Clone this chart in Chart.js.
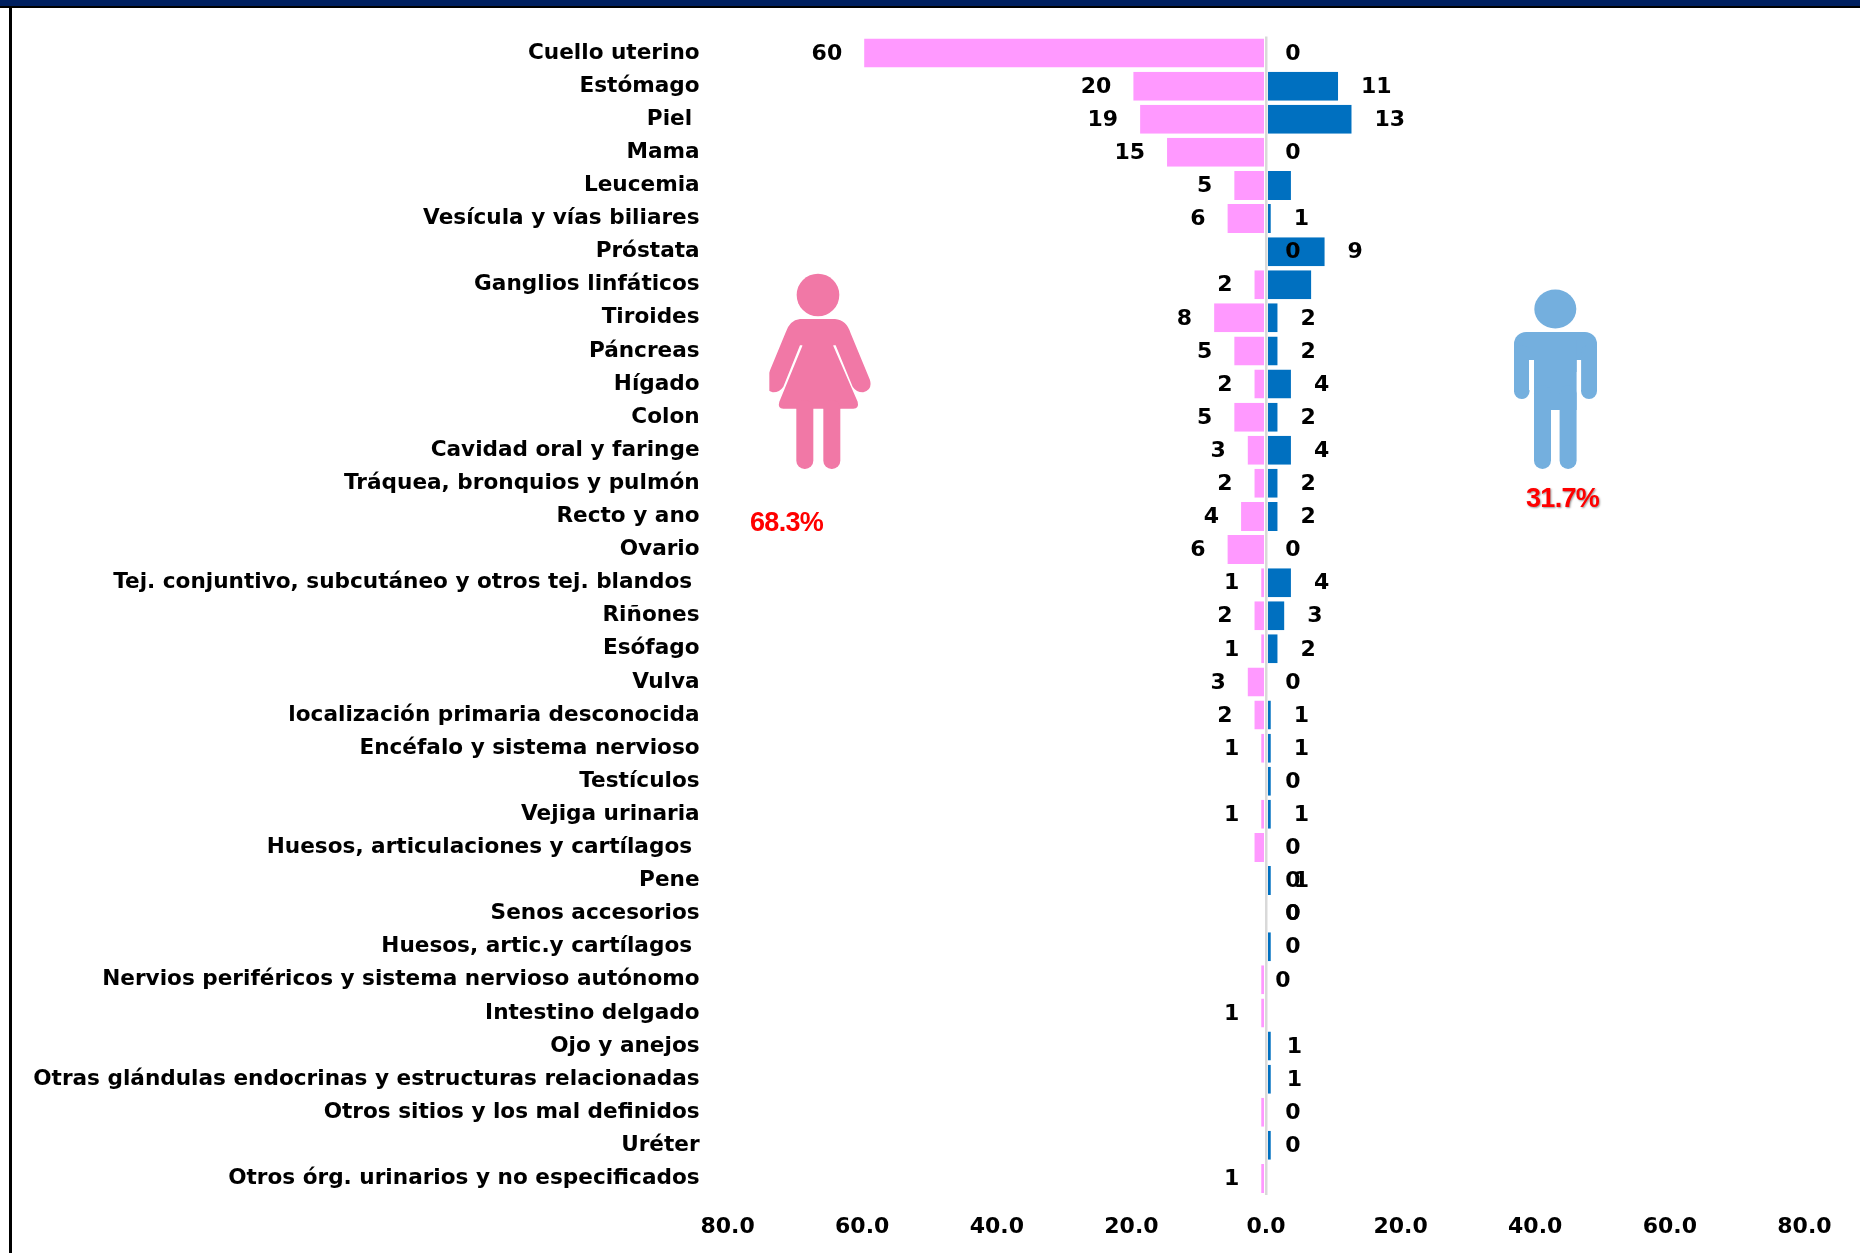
<!DOCTYPE html>
<html>
<head>
<meta charset="utf-8">
<script src="https://cdn.jsdelivr.net/npm/chart.js@4"></script>
<style>
  html, body { margin: 0; padding: 0; background: #fff; }
  body { width: 1860px; height: 1253px; position: relative; overflow: hidden; }
  #topbar { position: absolute; left: 0; top: 0; width: 1860px; height: 6px; background: #002060; border-bottom: 2px solid #000; }
  #leftline { position: absolute; left: 9px; top: 8px; width: 3px; height: 1245px; background: #000; }
  #wrap { position: absolute; left: 0; top: 0; width: 1860px; height: 1253px; }
  #icons { position: absolute; left: 0; top: 0; }
  .pct { position: absolute; color: #f00; font: bold 27px "Liberation Sans", sans-serif; line-height: 30px; letter-spacing: -0.7px; }
  #pct-m { text-shadow: 1px 1px 2px #999; }
</style>
</head>
<body>
<div id="topbar"></div>
<div id="leftline"></div>
<div id="wrap"><canvas id="chart" width="1860" height="1253"></canvas></div>

<svg id="icons" width="1860" height="1253" viewBox="0 0 1860 1253">
  <!-- mujer -->
  <g transform="translate(700 240) scale(0.3333)" fill="#f178a6">
    <clipPath id="armclip"><rect x="208" y="200" width="400" height="300"/></clipPath>
    <circle cx="354" cy="165" r="64"/>
    <g clip-path="url(#armclip)">
      <path d="M300 237 H405 Q440 240 452 280 L510 420 Q518 450 490 457 Q470 458 458 440 L407 316 H300 L250 440 Q238 458 218 457 Q190 450 198 420 L256 280 Q268 240 300 237 Z"/>
    </g>
    <path d="M307 310 H400 V318 L473 485 Q478 505 460 506 H250 Q232 505 238 485 L307 318 Z"/>
    <rect x="289" y="480" width="51" height="207" rx="25"/>
    <rect x="370" y="480" width="51" height="207" rx="25"/>
  </g>
  <!-- hombre -->
  <g fill="#74afde">
    <ellipse cx="1555.3" cy="309" rx="21" ry="19.5"/>
    <rect x="1514" y="332" width="83" height="40" rx="12"/>
    <rect x="1514" y="345" width="15.5" height="54" rx="7.7"/>
    <rect x="1581" y="345" width="16" height="54" rx="8"/>
    <rect x="1529" y="360" width="5" height="30" fill="#fff"/>
    <rect x="1576.6" y="360" width="4.5" height="30" fill="#fff"/>
    <rect x="1534" y="340" width="42.6" height="70"/>
    <rect x="1534" y="385" width="17" height="84" rx="8.5"/>
    <rect x="1559.6" y="385" width="17" height="84" rx="8.5"/>
  </g>
</svg>

<div class="pct" id="pct-f" style="left:750px;top:507px;">68.3%</div>
<div class="pct" id="pct-m" style="left:1526px;top:483px;">31.7%</div>

<script>
const categories = [
  'Cuello uterino', 'Estómago', 'Piel ', 'Mama', 'Leucemia', 'Vesícula y vías biliares', 'Próstata',
  'Ganglios linfáticos', 'Tiroides', 'Páncreas', 'Hígado', 'Colon', 'Cavidad oral y faringe',
  'Tráquea, bronquios y pulmón', 'Recto y ano', 'Ovario', 'Tej. conjuntivo, subcutáneo y otros tej. blandos ',
  'Riñones', 'Esófago', 'Vulva', 'localización primaria desconocida', 'Encéfalo y sistema nervioso',
  'Testículos', 'Vejiga urinaria', 'Huesos, articulaciones y cartílagos ', 'Pene', 'Senos accesorios',
  'Huesos, artic.y cartílagos ', 'Nervios periféricos y sistema nervioso autónomo', 'Intestino delgado',
  'Ojo y anejos', 'Otras glándulas endocrinas y estructuras relacionadas', 'Otros sitios y los mal definidos',
  'Uréter', 'Otros órg. urinarios y no especificados'
];

// longitud de las barras
const femaleValues = [60, 20, 19, 15, 5, 6, 0, 2, 8, 5, 2, 5, 3, 2, 4, 6, 1, 2, 1, 3, 2, 1, 0, 1, 2, 0, 0, 0, 1, 1, 0, 0, 1, 0, 1];
const maleValues = [0, 11, 13, 0, 4, 1, 9, 7, 2, 2, 4, 2, 4, 2, 2, 0, 4, 3, 2, 0, 1, 1, 1, 1, 0, 1, 0, 1, 0, 0, 1, 1, 0, 1, 0];

// etiquetas tal como salen en la figura (null = sin etiqueta)
const femaleLabels = [60, 20, 19, 15, 5, 6, 0, 2, 8, 5, 2, 5, 3, 2, 4, 6, 1, 2, 1, 3, 2, 1, 0, 1, null, 0, 0, 0, null, 1, null, null, null, 0, 1];
const maleLabels = [0, 11, 13, 0, null, 1, 9, null, 2, 2, 4, 2, 4, 2, 2, 0, 4, 3, 2, 0, 1, 1, null, 1, 0, 1, 0, null, 0, null, 1, 1, 0, null, null];

const xTicks = [-80, -60, -40, -20, 0, 20, 40, 60, 80];

const font = 'bold 22px "DejaVu Sans"';

// unos pocos rotulos estan corridos en el original
const labelShift = { 'Nervios periféricos y sistema nervioso autónomo': -10, 'Ojo y anejos': -7, 'Otras glándulas endocrinas y estructuras relacionadas': -7 };

const valueLabels = {
  id: 'valueLabels',
  afterDatasetsDraw(chart) {
    const { ctx, scales: { x, y }, chartArea } = chart;
    const x0 = x.getPixelForValue(0);

    // eje central gris con su margen blanco
    ctx.save();
    ctx.fillStyle = '#fff';
    ctx.fillRect(x0 - 2, chartArea.top, 4, chartArea.bottom - chartArea.top);
    ctx.fillStyle = '#d9d9d9';
    ctx.fillRect(x0 - 1, chartArea.top, 2.5, chartArea.bottom - chartArea.top);

    ctx.font = font;
    ctx.fillStyle = '#000';
    ctx.textBaseline = 'middle';

    categories.forEach((name, i) => {
      const py = y.getPixelForValue(i) + 1;
      const shift = labelShift[name] || 0;
      const drawLabel = (value, side) => {
        if (value === null) return;
        if (value === 0) {
          ctx.textAlign = 'center';
          ctx.fillText('0', x0 + 27 + shift, py);
        } else if (side < 0) {
          ctx.textAlign = 'right';
          ctx.fillText(String(value), x.getPixelForValue(-femaleValues[i]) - 20, py);
        } else {
          ctx.textAlign = 'left';
          ctx.fillText(String(value), x.getPixelForValue(maleValues[i]) + 21 + shift, py);
        }
      };
      drawLabel(femaleLabels[i], -1);
      drawLabel(maleLabels[i], 1);
    });
    ctx.restore();
  }
};

new Chart(document.getElementById('chart'), {
  type: 'bar',
  data: {
    labels: categories,
    datasets: [
      {
        label: 'Mujeres',
        data: femaleValues.map(v => -v),
        backgroundColor: '#ff99ff'
      },
      {
        label: 'Hombres',
        data: maleValues,
        backgroundColor: '#0070c0'
      }
    ]
  },
  options: {
    indexAxis: 'y',
    responsive: false,
    animation: false,
    layout: { autoPadding: false, padding: { top: 36.5, right: 55.6, left: 0, bottom: 0 } },
    datasets: {
      bar: {
        grouped: false,
        categoryPercentage: 1,
        barPercentage: 0.876,
        borderColor: '#fff',
        borderWidth: { left: 2, right: 2 },
        inflateAmount: 0
      }
    },
    plugins: { legend: { display: false }, tooltip: { enabled: false }, title: { display: false } },
    scales: {
      x: {
        type: 'linear',
        min: xTicks[0],
        max: xTicks[xTicks.length - 1],
        afterFit: s => { s.height = 58; },
        grid: { display: false, drawTicks: false },
        border: { display: false },
        ticks: {
          stepSize: 20,
          padding: 19,
          maxRotation: 0,
          color: '#000',
          font: { family: 'DejaVu Sans', size: 22, weight: 'bold' },
          callback: v => Math.abs(v).toFixed(1)
        }
      },
      y: {
        type: 'category',
        afterFit: s => { s.width = 727.6; },
        // la separacion va en tickLength: ticks.padding empuja el area del grafico hacia abajo
        grid: { display: false, drawTicks: true, tickLength: 28 },
        border: { display: false },
        ticks: {
          autoSkip: false,
          padding: 0,
          color: '#000',
          font: { family: 'DejaVu Sans', size: 21.6, weight: 'bold' }
        }
      }
    }
  },
  plugins: [valueLabels]
});
</script>
</body>
</html>
